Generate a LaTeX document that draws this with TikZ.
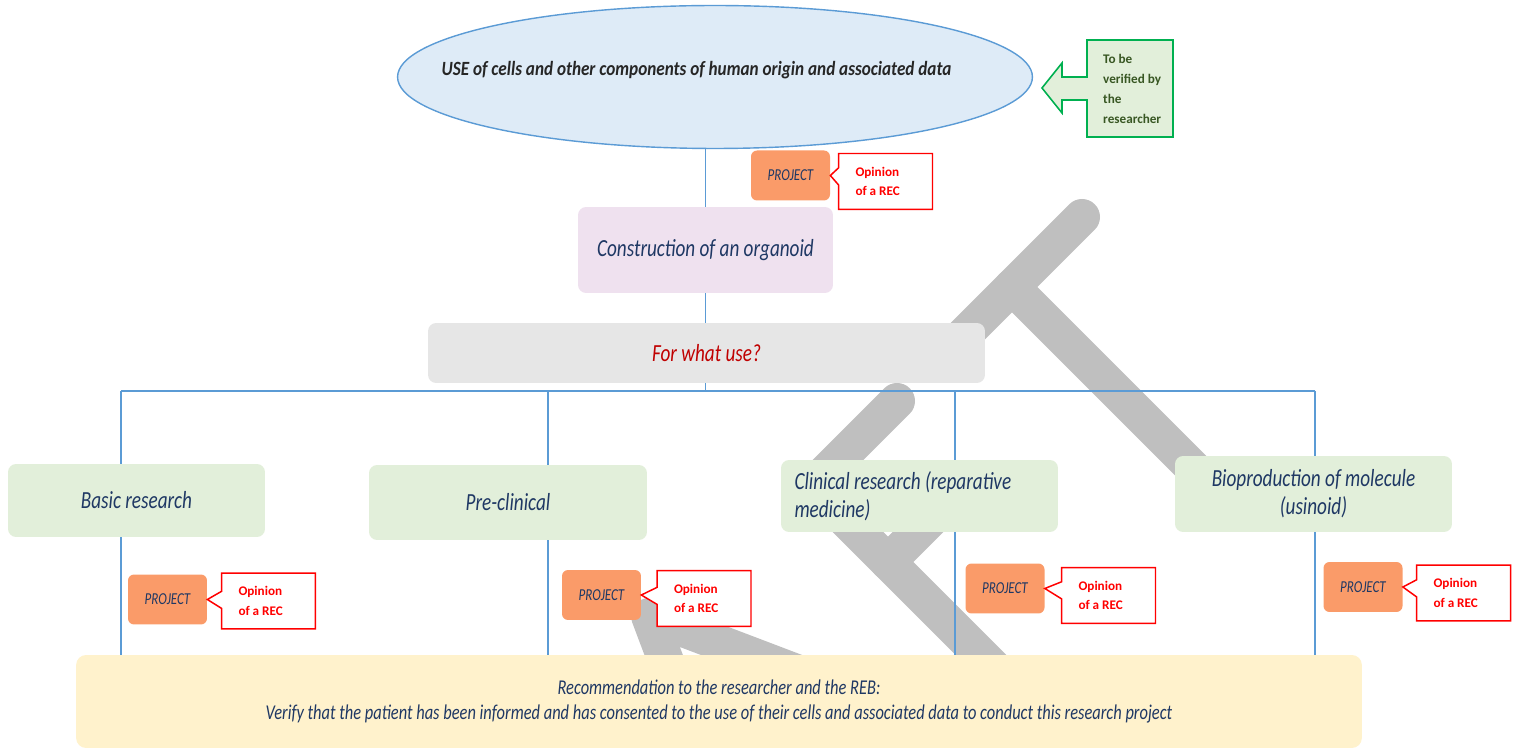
\documentclass[tikz,border=0pt]{standalone}
\usepackage{fontspec}
\setmainfont{Carlito}
\newfontfamily\narrowfont{Carlito}[FakeStretch=0.78]
\newfontfamily\ellipsefont{Carlito}[FakeStretch=0.85]
\usetikzlibrary{shapes.geometric,shapes.callouts}
\definecolor{navy}{RGB}{31,56,100}
\definecolor{linkblue}{RGB}{91,155,213}
\definecolor{projorange}{RGB}{250,155,105}
\definecolor{leafgreen}{RGB}{226,239,218}
\definecolor{usefill}{RGB}{222,235,247}
\definecolor{pinkfill}{RGB}{239,225,239}
\definecolor{qgray}{RGB}{230,230,230}
\definecolor{qred}{RGB}{192,0,0}
\definecolor{recyellow}{RGB}{255,242,204}
\definecolor{verifgreen}{RGB}{0,176,80}
\definecolor{veriftext}{RGB}{56,87,35}
\definecolor{recred}{RGB}{255,0,0}
\definecolor{wmgray}{RGB}{191,191,191}

\begin{document}
\begin{tikzpicture}[x=0.02cm, y=-0.02cm,
    conn/.style={draw=linkblue, line width=0.6pt},
    label/.style={font=\narrowfont\itshape\fontsize{14}{16}\selectfont, text=navy, align=center},
    leaf/.style={label, fill=leafgreen, rounded corners=0.16cm, minimum width=5.54cm},
    proj/.style={fill=projorange, rounded corners=0.12cm, minimum width=1.58cm, minimum height=1cm,
        font=\narrowfont\itshape\fontsize{9.5}{11}\selectfont, text=navy},
    opinion/.style={rectangle callout, draw=recred, line width=0.85pt, fill=white,
        minimum width=1.88cm, minimum height=1.12cm, callout pointer width=0.34cm, text width=1.2cm,
        font=\bfseries\fontsize{7.5}{11}\selectfont, text=recred, align=flush left},
    wmark/.style={draw=wmgray, line width=0.72cm, line cap=round, line join=round}]
    \useasboundingbox (0,0) rectangle (1515,749);

    % watermark
    \draw[wmark] (1082,217) -- (942,357);
    \draw[wmark] (1012,287) -- (1232,507);
    \draw[wmark] (897,401) -- (812,486) -- (1040,714);
    \draw[wmark] (888,562) -- (955,495);
    \draw[wmark] (690,725) -- (649,616) -- (883,705);

    % top
    \node[ellipse, draw=linkblue, line width=0.8pt, fill=usefill, minimum width=12.7cm, minimum height=2.86cm]
        (use) at (715,77) {};
    \node[font=\ellipsefont\bfseries\itshape\fontsize{11.5}{13}\selectfont, text=black!85] (usetext) at (696.5,70)
        {USE of cells and other components of human origin and associated data};
    \draw[draw=verifgreen, fill=leafgreen, line width=0.9pt] (1087,40) -- (1173,40) -- (1173,137) -- (1087,137)
        -- (1087,100) -- (1062,100) -- (1062,113) -- (1042,88) -- (1062,63) -- (1062,77) -- (1087,77) -- cycle;
    \node[anchor=west, align=left, text=veriftext, font=\bfseries\fontsize{7.5}{11.3}\selectfont] (verif) at (1097,89)
        {To be\\verified by\\the\\researcher};

    \node[proj] (proj0) at (790.5,175.5) {PROJECT};
    \node[opinion, callout absolute pointer={(proj0.east)}] (rec0) at (885.5,181.5) {Opinion\\of a REC};

    \node[label, fill=pinkfill, rounded corners=0.16cm, minimum width=5.1cm, minimum height=1.72cm] (constr) at (705.5,250)
        {Construction of an organoid};
    \node[label, fill=qgray, rounded corners=0.16cm, minimum width=11.14cm, minimum height=1.2cm, text=qred] (purpose) at (706.5,353)
        {For what use?};

    % the four uses
    \node[leaf, minimum width=5.14cm, minimum height=1.46cm] (basic) at (136.5,500.5) {Basic research};
    \node[leaf, minimum width=5.56cm, minimum height=1.5cm] (precl) at (508,502.5) {Pre-clinical};
    \node[leaf, minimum height=1.44cm, text width=5cm, align=flush left] (clin) at (919.5,496)
        {Clinical research (reparative\\medicine)};
    \node[leaf, minimum height=1.52cm] (biop) at (1313.5,494) {Bioproduction of molecule\\(usinoid)};

    \node[proj] (proj1) at (167.5,599.5) {PROJECT};
    \node[opinion, callout absolute pointer={(proj1.east)}] (rec1) at (268.5,601) {Opinion\\of a REC};
    \node[proj] (proj2) at (601.5,595) {PROJECT};
    \node[opinion, callout absolute pointer={(proj2.east)}] (rec2) at (704,598.5) {Opinion\\of a REC};
    \node[proj] (proj3) at (1005,588.5) {PROJECT};
    \node[opinion, callout absolute pointer={(proj3.east)}] (rec3) at (1108.5,595.5) {Opinion\\of a REC};
    \node[proj] (proj4) at (1363,587) {PROJECT};
    \node[opinion, callout absolute pointer={(proj4.east)}] (rec4) at (1463.5,593) {Opinion\\of a REC};

    \node[fill=recyellow, rounded corners=0.2cm, minimum width=25.72cm, minimum height=1.86cm,
        font=\narrowfont\itshape\fontsize{12}{14.2}\selectfont, text=navy, align=center] (advice) at (719,701.5)
        {Recommendation to the researcher and the REB:\\Verify that the patient has been informed and has consented to the use of their cells and associated data to conduct this research project};

    % connectors
    \coordinate (d1) at (121,391);
    \coordinate (d2) at (548,391);
    \coordinate (d3) at (955,391);
    \coordinate (d4) at (1315,391);
    \draw[conn] (constr.north) -- (constr.north |- use.south);
    \draw[conn] (constr.south) -- (constr.south |- purpose.north);
    \draw[conn] (constr.south |- purpose.south) -- (constr.south |- d1);
    \draw[conn] (d1) -- (d4);
    \draw[conn] (d1) -- (d1 |- basic.north);
    \draw[conn] (d2) -- (d2 |- precl.north);
    \draw[conn] (d3) -- (d3 |- clin.north);
    \draw[conn] (d4) -- (d4 |- biop.north);
    \draw[conn] (d1 |- basic.south) -- (d1 |- advice.north);
    \draw[conn] (d2 |- precl.south) -- (d2 |- advice.north);
    \draw[conn] (d3 |- clin.south) -- (d3 |- advice.north);
    \draw[conn] (d4 |- biop.south) -- (d4 |- advice.north);
\end{tikzpicture}
\end{document}
